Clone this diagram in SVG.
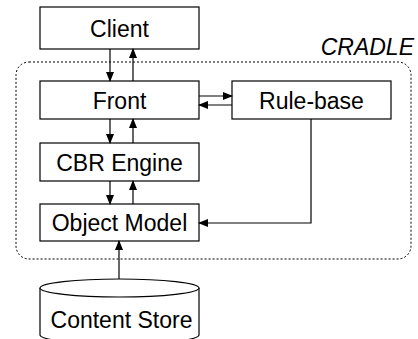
<svg xmlns="http://www.w3.org/2000/svg" width="418" height="339" viewBox="0 0 418 339">
<defs>
<marker id="ah" markerWidth="10" markerHeight="8" refX="9" refY="4" orient="auto" markerUnits="userSpaceOnUse">
<path d="M0,0 L10,4 L0,8 z" fill="#000"/>
</marker>
<style>
.box{fill:#fff;stroke:#000;stroke-width:1.2}
.t{font-family:"Liberation Sans",Arial,sans-serif;font-size:23px;fill:#000;text-anchor:middle}
.c{fill:none;stroke:#000;stroke-width:1.2;marker-end:url(#ah)}
</style>
</defs>
<rect width="418" height="339" fill="#fff"/>
<g id="cradle">
<rect x="16" y="62" width="395" height="197" rx="13" ry="13" fill="none" stroke="#000" stroke-width="1" stroke-dasharray="2,2"/>
<text x="414" y="55" class="t" style="text-anchor:end;font-style:italic">CRADLE</text>
</g>
<g id="client">
<rect class="box" x="40" y="7" width="159" height="42"/>
<text class="t" x="119.5" y="36.5">Client</text>
</g>
<g id="front">
<rect class="box" x="40" y="81" width="159" height="38"/>
<text class="t" x="119.5" y="108.5">Front</text>
</g>
<g id="rulebase">
<rect class="box" x="232" y="81" width="159" height="38"/>
<text class="t" x="311.5" y="108.5">Rule-base</text>
</g>
<g id="cbr">
<rect class="box" x="40" y="143" width="159" height="38"/>
<text class="t" x="119.5" y="170.5">CBR Engine</text>
</g>
<g id="objectmodel">
<rect class="box" x="40" y="204" width="159" height="37"/>
<text class="t" x="119.5" y="231">Object Model</text>
</g>
<g id="contentstore">
<path d="M40,288 L40,335 A79.5,9 0 0 0 199,335 L199,288" fill="#fff" stroke="#000" stroke-width="1.2"/>
<ellipse cx="119.5" cy="288" rx="79.5" ry="9" fill="#fff" stroke="#000" stroke-width="1.2"/>
<text class="t" x="121.5" y="328">Content Store</text>
</g>
<g id="connectors">
<line class="c" x1="110" y1="49" x2="110" y2="81"/>
<line class="c" x1="133" y1="81" x2="133" y2="49"/>
<line class="c" x1="199" y1="96" x2="232" y2="96"/>
<line class="c" x1="232" y1="105" x2="199" y2="105"/>
<line class="c" x1="110" y1="119" x2="110" y2="143"/>
<line class="c" x1="133" y1="143" x2="133" y2="119"/>
<line class="c" x1="110" y1="181" x2="110" y2="204"/>
<line class="c" x1="133" y1="204" x2="133" y2="181"/>
<polyline class="c" points="311,119 311,223 199,223"/>
<line class="c" x1="119" y1="279" x2="119" y2="241"/>
</g>
</svg>
